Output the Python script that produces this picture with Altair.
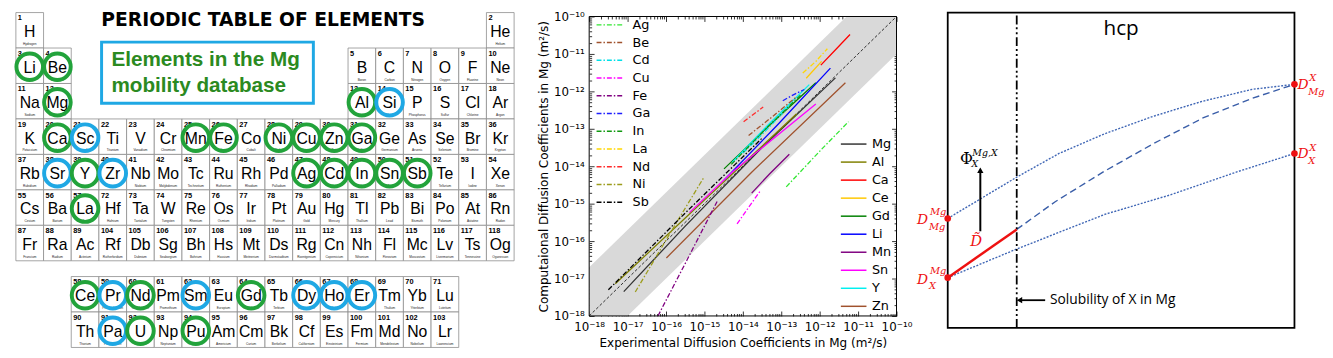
import altair as alt
import pandas as pd

FONT = "DejaVu Sans"
SANS = "Liberation Sans"

# =====================================================================
# Panel 1 : periodic table
# =====================================================================
symbols = ("H He Li Be B C N O F Ne Na Mg Al Si P S Cl Ar K Ca Sc Ti V Cr Mn Fe Co Ni Cu Zn "
           "Ga Ge As Se Br Kr Rb Sr Y Zr Nb Mo Tc Ru Rh Pd Ag Cd In Sn Sb Te I Xe Cs Ba La Ce "
           "Pr Nd Pm Sm Eu Gd Tb Dy Ho Er Tm Yb Lu Hf Ta W Re Os Ir Pt Au Hg Tl Pb Bi Po At Rn "
           "Fr Ra Ac Th Pa U Np Pu Am Cm Bk Cf Es Fm Md No Lr Rf Db Sg Bh Hs Mt Ds Rg Cn Nh Fl "
           "Mc Lv Ts Og").split()
names = ["Hydrogen", "Helium", "Lithium", "Beryllium", "Boron", "Carbon", "Nitrogen", "Oxygen",
         "Fluorine", "Neon", "Sodium", "Magnesium", "Aluminum", "Silicon", "Phosphorus", "Sulfur",
         "Chlorine", "Argon", "Potassium", "Calcium", "Scandium", "Titanium", "Vanadium",
         "Chromium", "Manganese", "Iron", "Cobalt", "Nickel", "Copper", "Zinc", "Gallium",
         "Germanium", "Arsenic", "Selenium", "Bromine", "Krypton", "Rubidium", "Strontium",
         "Yttrium", "Zirconium", "Niobium", "Molybdenum", "Technetium", "Ruthenium", "Rhodium",
         "Palladium", "Silver", "Cadmium", "Indium", "Tin", "Antimony", "Tellurium", "Iodine",
         "Xenon", "Cesium", "Barium", "Lanthanum", "Cerium", "Praseodymium", "Neodymium",
         "Promethium", "Samarium", "Europium", "Gadolinium", "Terbium", "Dysprosium", "Holmium",
         "Erbium", "Thulium", "Ytterbium", "Lutetium", "Hafnium", "Tantalum", "Tungsten",
         "Rhenium", "Osmium", "Iridium", "Platinum", "Gold", "Mercury", "Thallium", "Lead",
         "Bismuth", "Polonium", "Astatine", "Radon", "Francium", "Radium", "Actinium", "Thorium",
         "Protactinium", "Uranium", "Neptunium", "Plutonium", "Americium", "Curium", "Berkelium",
         "Californium", "Einsteinium", "Fermium", "Mendelevium", "Nobelium", "Lawrencium",
         "Rutherfordium", "Dubnium", "Seaborgium", "Bohrium", "Hassium", "Meitnerium",
         "Darmstadtium", "Roentgenium", "Copernicium", "Nihonium", "Flerovium", "Moscovium",
         "Livermorium", "Tennessine", "Oganesson"]
green_elements = ["Li", "Be", "Mg", "Al", "Ca", "Mn", "Fe", "Ni", "Cu", "Zn", "Ga", "Y", "Ag",
                  "Cd", "In", "Sn", "Sb", "La", "Ce", "Nd", "Gd", "U", "Pu"]
blue_elements = ["Si", "Sc", "Sr", "Zr", "Pr", "Sm", "Dy", "Ho", "Er", "Pa"]
title_text = ["PERIODIC TABLE OF ELEMENTS"]
box_lines = ["Elements in the Mg", "mobility database"]


def table_position(z):
    if z == 1: return 1, 1
    if z == 2: return 18, 1
    if z <= 4: return z - 2, 2
    if z <= 10: return z + 8, 2
    if z <= 12: return z - 10, 3
    if z <= 18: return z, 3
    if z <= 36: return z - 18, 4
    if z <= 54: return z - 36, 5
    if z <= 56: return z - 54, 6
    if z == 57: return 3, 6
    if z <= 71: return z - 55, 8
    if z <= 86: return z - 68, 6
    if z <= 88: return z - 86, 7
    if z == 89: return 3, 7
    if z <= 103: return z - 87, 9
    return z - 100, 7


ROW_TOP = {1: 1, 2: 2, 3: 3, 4: 4, 5: 5, 6: 6, 7: 7, 8: 8.444, 9: 9.444}
rows = []
for z, (s, n) in enumerate(zip(symbols, names), start=1):
    c, r = table_position(z)
    v = ROW_TOP[r]
    ring = "green" if s in green_elements else ("blue" if s in blue_elements else "")
    rows.append(dict(num=str(z), sym=s, name=n, c0=c, c1=c + 1, cx=c + 0.5,
                     r0=v, r1=v + 1, cy=v + 0.5, ring=ring))
cells_df = pd.DataFrame(rows)

W1, H1 = 530, 340
Y0 = 14.0          # page y of the panels' origin
CW, CH = 28.1, 36.0
p1x = alt.Scale(domain=[1, 1 + W1 / CW], nice=False, zero=False)
p1y = alt.Scale(domain=[1 + (Y0 - 10) / CH, 1 + (Y0 + H1 - 10) / CH], nice=False, zero=False,
                reverse=True)


def X1(f):
    return alt.X(f, type="quantitative", scale=p1x, axis=None)


def Y1(f):
    return alt.Y(f, type="quantitative", scale=p1y, axis=None)


base1 = alt.Chart(cells_df)
cells = base1.mark_rect(fill="white", stroke="#8c8c8c", strokeWidth=0.8).encode(
    x=X1("c0"), x2="c1", y=Y1("r0"), y2="r1")
nums = base1.mark_text(align="left", baseline="top", dx=2, dy=2, fontSize=7.5,
                       fontWeight="bold", font=SANS, color="black").encode(
    x=X1("c0"), y=Y1("r0"), text="num:N")
syms = base1.mark_text(align="center", baseline="middle", dy=2, fontSize=16, font=SANS,
                       color="black").encode(x=X1("cx"), y=Y1("cy"), text="sym:N")
nms = base1.mark_text(align="center", baseline="bottom", dy=-2, fontSize=3.2, font=SANS,
                      color="#222222").encode(x=X1("cx"), y=Y1("r1"), text="name:N")
rings = base1.transform_filter("datum.ring != ''").mark_point(
    shape="circle", size=729, filled=False, strokeWidth=4, opacity=1, yOffset=1).encode(
    x=X1("cx"), y=Y1("cy"),
    color=alt.Color("ring:N", scale=alt.Scale(domain=["green", "blue"],
                                              range=["#22a33b", "#1fa8e4"]), legend=None))

title_df = pd.DataFrame({"text": title_text, "x": [1 + 251 / CW], "y": [1 + 7.8 / CH]})
title1 = alt.Chart(title_df).mark_text(fontSize=19, fontWeight="bold", font=FONT,
                                       color="black").encode(
    x=X1("x"), y=Y1("y"), text="text:N")

box_df = pd.DataFrame({"x": [1 + 87 / CW], "x2": [1 + 302 / CW],
                       "y": [1 + 30 / CH], "y2": [1 + 92 / CH]})
box = alt.Chart(box_df).mark_rect(fill="white", stroke="#1fa8e4", strokeWidth=3).encode(
    x=X1("x"), x2="x2", y=Y1("y"), y2="y2")
boxtxt_df = pd.DataFrame({"text": box_lines, "x": [1 + 97 / CW] * 2,
                          "y": [1 + 48 / CH, 1 + 75 / CH]})
boxtxt = alt.Chart(boxtxt_df).mark_text(align="left", baseline="middle", fontSize=21,
                                        fontWeight="bold", font=SANS, color="#2b8a21").encode(
    x=X1("x"), y=Y1("y"), text="text:N")

panel1 = alt.layer(cells, nums, syms, nms, rings, title1, box, boxtxt).properties(
    width=W1, height=H1)

# =====================================================================
# Panel 2 : computational vs experimental diffusion coefficients
# =====================================================================
tick_labels = ["10⁻¹⁸", "10⁻¹⁷", "10⁻¹⁶", "10⁻¹⁵", "10⁻¹⁴", "10⁻¹³", "10⁻¹²", "10⁻¹¹", "10⁻¹⁰"]
decades = list(range(-18, -9))
band_offsets = [-1.0, 1.3]     # log10 offsets of the grey band edges from y = x

# impurity (dash-dot) series: log10 experimental, log10 computational
dd_elements = ["Ag", "Be", "Cd", "Cu", "Fe", "Ga", "In", "La", "Nd", "Ni", "Sb"]
dd_colors = ["#33e633", "#a0522d", "#00e0e8", "#ff00ff", "#800080", "#1f1fff", "#119911",
             "#ffd700", "#ff2a2a", "#9c9c1c", "#000000"]
Ag_lx = [-12.87, -12.0, -11.25]; Ag_ly = [-14.55, -13.6, -12.81]
Be_lx = [-13.85, -13.2, -12.62]; Be_ly = [-13.18, -12.65, -12.16]
Cd_lx = [-14.0, -13.4, -12.8];   Cd_ly = [-13.65, -13.05, -12.4]
Cu_lx = [-14.15, -13.85, -13.56]; Cu_ly = [-15.54, -15.1, -14.68]
Fe_lx = [-16.21, -15.45, -14.67]; Fe_ly = [-18.0, -16.5, -14.94]
Ga_lx = [-12.96, -12.7, -12.4];  Ga_ly = [-12.25, -12.1, -11.95]
In_lx = [-14.3, -13.4, -12.5];   In_ly = [-13.95, -13.0, -12.1]
La_lx = [-12.44, -12.1, -11.8];  La_ly = [-11.51, -11.2, -10.86]
Nd_lx = [-13.98, -13.47];        Nd_ly = [-12.81, -12.42]
Ni_lx = [-16.8, -15.9, -15.01];  Ni_ly = [-17.36, -15.8, -14.29]
Sb_lx = [-17.5, -15.5, -13.5];   Sb_ly = [-17.3, -15.25, -13.25]
dd_series = [Ag_lx, Ag_ly, Be_lx, Be_ly, Cd_lx, Cd_ly, Cu_lx, Cu_ly, Fe_lx, Fe_ly, Ga_lx, Ga_ly,
             In_lx, In_ly, La_lx, La_ly, Nd_lx, Nd_ly, Ni_lx, Ni_ly, Sb_lx, Sb_ly]

# solid series
sl_elements = ["Mg", "Al", "Ca", "Ce", "Gd", "Li", "Mn", "Sn", "Y", "Zn"]
sl_colors = ["#333333", "#808000", "#ff0000", "#ffc800", "#008000", "#0000ff", "#800080",
             "#ff00ff", "#00f0f0", "#a0522d"]
Mg_lx = [-17.1, -15.5, -13.5, -11.59]; Mg_ly = [-17.35, -15.6, -13.5, -11.64]
Al_lx = [-17.32, -15.0, -12.6];  Al_ly = [-17.14, -14.9, -12.6]
Ca_lx = [-11.97, -11.6, -11.21]; Ca_ly = [-11.3, -10.9, -10.48]
Ce_lx = [-12.35, -11.95];        Ce_ly = [-11.65, -11.2]
Gd_lx = [-14.49, -13.3, -12.1];  Gd_ly = [-14.07, -12.9, -11.77]
Li_lx = [-14.49, -13.1, -11.72]; Li_ly = [-14.37, -12.9, -11.38]
Mn_lx = [-13.77, -13.3, -12.79]; Mn_ly = [-14.72, -14.2, -13.68]
Sn_lx = [-15.39, -14.28, -12.1]; Sn_ly = [-15.24, -14.16, -12.34]
Y_lx = [-14.28, -13.3, -12.27];  Y_ly = [-13.9, -12.85, -11.82]
Zn_lx = [-15.99, -13.77, -11.33]; Zn_ly = [-16.45, -14.16, -11.77]
sl_series = [Mg_lx, Mg_ly, Al_lx, Al_ly, Ca_lx, Ca_ly, Ce_lx, Ce_ly, Gd_lx, Gd_ly, Li_lx, Li_ly,
             Mn_lx, Mn_ly, Sn_lx, Sn_ly, Y_lx, Y_ly, Zn_lx, Zn_ly]


def series_frame(elements, series):
    out = []
    for i, el in enumerate(elements):
        lx, ly = series[2 * i], series[2 * i + 1]
        for k, (a, b) in enumerate(zip(lx, ly)):
            out.append(dict(element=el, x=10.0 ** a, y=10.0 ** b, order=k))
    return pd.DataFrame(out)


dd_df = series_frame(dd_elements, dd_series)
sl_df = series_frame(sl_elements, sl_series)

W2, H2 = 312, 304
xs2 = alt.Scale(type="log", domain=[1e-18, 1e-10], nice=False)
ys2 = alt.Scale(type="log", domain=[1e-18, 1e-10], nice=False)
major = [10.0 ** d for d in decades]
minor = [m * 10.0 ** d for d in decades[:-1] for m in range(2, 10)]
label_expr = "[" + ",".join("'%s'" % t for t in tick_labels) + "][round(log(datum.value)/LN10)+18]"

band_df = pd.DataFrame({"x": [1e-18, 1e-10]})
band_df["lo"] = band_df["x"] * 10.0 ** band_offsets[0]
band_df["hi"] = band_df["x"] * 10.0 ** band_offsets[1]
band = alt.Chart(band_df).mark_area(color="#d9d9d9", clip=True, opacity=1).encode(
    x=alt.X("x:Q", scale=xs2, axis=None), y=alt.Y("lo:Q", scale=ys2, axis=None), y2="hi:Q")
diag = alt.Chart(band_df).mark_line(color="black", strokeDash=[3, 2], strokeWidth=0.8).encode(
    x=alt.X("x:Q", scale=xs2, axis=None), y=alt.Y("x:Q", scale=ys2, axis=None))

leg_common = dict(title=None, orient="none", symbolType="M-2,0H2", symbolSize=169,
                  symbolStrokeWidth=1.5, labelFont=FONT, labelFontSize=13, labelColor="black",
                  padding=0)
sl_lines = alt.Chart(sl_df).mark_line(strokeWidth=1.3).encode(
    x=alt.X("x:Q", scale=xs2, axis=None), y=alt.Y("y:Q", scale=ys2, axis=None),
    order="order:Q",
    color=alt.Color("element:N", scale=alt.Scale(domain=sl_elements, range=sl_colors),
                    legend=alt.Legend(legendX=261, legendY=122, rowPadding=3.3, labelOffset=11,
                                      **leg_common)))
dd_lines = alt.Chart(dd_df).mark_line(strokeWidth=1.3, strokeDash=[5, 2, 1.5, 2]).encode(
    x=alt.X("x:Q", scale=xs2, axis=None), y=alt.Y("y:Q", scale=ys2, axis=None),
    order="order:Q",
    color=alt.Color("element:N", scale=alt.Scale(domain=dd_elements, range=dd_colors),
                    legend=alt.Legend(legendX=13, legendY=1, symbolDash=[5, 2, 1.5, 2],
                                      rowPadding=3, labelOffset=16, **leg_common)))

frame_df = pd.DataFrame({"x": [1e-18], "x2": [1e-10], "y": [1e-18], "y2": [1e-10]})
frame2 = alt.Chart(frame_df).mark_rect(fill="transparent", stroke="black", strokeWidth=1).encode(
    x=alt.X("x:Q", scale=xs2, axis=None), x2="x2:Q",
    y=alt.Y("y:Q", scale=ys2, axis=None), y2="y2:Q")


def ax(orient, values, size, labels=False, title=None, **kw):
    return alt.Axis(orient=orient, values=values, tickSize=size, offset=-size, domain=False,
                    grid=False, labels=labels, title=title, tickColor="black", tickWidth=0.8,
                    labelFlush=False, labelOverlap=False, **kw)


lab_style = dict(labelExpr=label_expr, labelFont=FONT, labelFontSize=12, labelColor="black",
                 titleFont=FONT, titleFontSize=12.2, titleFontWeight="normal", titleColor="black")


def axis_layer(xaxis, yaxis):
    return alt.Chart(frame_df).mark_point(opacity=0).encode(
        x=alt.X("x:Q", scale=xs2, axis=xaxis), y=alt.Y("y:Q", scale=ys2, axis=yaxis))


axA = axis_layer(
    ax("bottom", major, 5, labels=True, labelPadding=6, titlePadding=4,
       title="Experimental Diffusion Coefficients in Mg (m²/s)", **lab_style),
    ax("left", major, 5, labels=True, labelPadding=5, titlePadding=3,
       title="Computaional Diffusion Coefficients in Mg (m²/s)", **lab_style))
axB = axis_layer(ax("top", major, 5), ax("right", major, 5))
axC = axis_layer(ax("bottom", minor, 2.5), ax("left", minor, 2.5))
axD = axis_layer(ax("top", minor, 2.5), ax("right", minor, 2.5))

panel2 = alt.layer(band, diag, sl_lines, dd_lines, frame2, axA, axB, axC, axD).resolve_scale(
    color="independent").resolve_axis(x="independent", y="independent").properties(
    width=W2, height=H2)

# =====================================================================
# Panel 3 : schematic of diffusion coefficient vs composition
# =====================================================================
x_labels = ["Mg", "at.% X", "X"]
upper_x = [0, 0.199, 0.321, 0.452, 0.594, 0.736, 0.878, 1.0]
upper_D = [0.351, 0.484, 0.560, 0.623, 0.680, 0.728, 0.766, 0.782]
lower_x = [0, 0.199, 0.452, 0.642, 0.832, 1.0]
lower_D = [0.161, 0.253, 0.364, 0.427, 0.500, 0.560]
dashed_x = [0.199, 0.310, 0.452, 0.594, 0.736, 0.878, 1.0]
dashed_D = [0.316, 0.405, 0.503, 0.592, 0.674, 0.737, 0.782]
red_x = [0, 0.199]
red_D = [0.161, 0.316]
solubility = 0.199
D_top = 1.0127
arrow_x = 0.094
arrow_D = [0.310, 0.506]
sol_arrow_x = [0.281, 0.207]
sol_arrow_D = 0.0886

W3, H3 = 352, 316
xs3 = alt.Scale(domain=[0, 1], nice=False, zero=False)
ys3 = alt.Scale(domain=[0, 1], nice=False, zero=False)


def X3(f):
    return alt.X(f, type="quantitative", scale=xs3, axis=None)


def Y3(f):
    return alt.Y(f, type="quantitative", scale=ys3, axis=None)


frame3_df = pd.DataFrame({"x": [0.0], "x2": [1.0], "y": [0.0], "y2": [D_top]})
frame3 = alt.Chart(frame3_df).mark_rect(fill="transparent", stroke="black",
                                        strokeWidth=1.8).encode(
    x=alt.X("x:Q", scale=xs3, axis=alt.Axis(
        values=[0, 0.5, 1], labelExpr="[" + ",".join("'%s'" % t for t in x_labels) +
        "][round(datum.value*2)]", ticks=False, domain=False, grid=False, labelFlush=False,
        labelOverlap=False, labelPadding=7, labelFont="Open Sans", labelFontSize=15,
        labelColor="black", title=None)),
    x2="x2:Q",
    y=alt.Y("y:Q", scale=ys3, axis=alt.Axis(
        title="D", labels=False, ticks=False, domain=False, grid=False, titleX=-15,
        titleY=146, titleAngle=270, titleBaseline="middle", titleFont="Open Sans",
        titleFontSize=15, titleFontWeight="normal", titleColor="black")),
    y2="y2:Q")

curves_df = pd.concat([
    pd.DataFrame({"curve": "upper", "x": upper_x, "D": upper_D}),
    pd.DataFrame({"curve": "lower", "x": lower_x, "D": lower_D})])
dotted = alt.Chart(curves_df).mark_line(color="#3f66b5", strokeWidth=1.4,
                                        strokeDash=[2, 1.5]).encode(
    x=X3("x"), y=Y3("D"), detail="curve:N")
dashed = alt.Chart(pd.DataFrame({"x": dashed_x, "D": dashed_D})).mark_line(
    color="#3a5ea8", strokeWidth=1.4, strokeDash=[7, 4]).encode(x=X3("x"), y=Y3("D"))
sol_df = pd.DataFrame({"x": [solubility], "y": [0.0], "y2": [D_top]})
sol_line = alt.Chart(sol_df).mark_rule(color="black", strokeWidth=1.8,
                                       strokeDash=[9, 3, 2, 3, 2, 3]).encode(
    x=X3("x"), y=Y3("y"), y2="y2")
red_line = alt.Chart(pd.DataFrame({"x": red_x, "D": red_D})).mark_line(
    color="#ee1111", strokeWidth=2.5).encode(x=X3("x"), y=Y3("D"))
dots_df = pd.DataFrame({"x": [0, 0, 1, 1], "D": [upper_D[0], lower_D[0], upper_D[-1], lower_D[-1]]})
dots = alt.Chart(dots_df).mark_point(filled=True, size=45, color="#ee1111", opacity=1).encode(
    x=X3("x"), y=Y3("D"))

arr_df = pd.DataFrame({"x": [arrow_x], "y": [arrow_D[0]], "y2": [arrow_D[1]]})
arr = alt.Chart(arr_df).mark_rule(color="black", strokeWidth=2).encode(
    x=X3("x"), y=Y3("y"), y2="y2")
arr_head = alt.Chart(arr_df).mark_point(shape="triangle-up", filled=True, size=40,
                                        color="black", opacity=1).encode(x=X3("x"), y=Y3("y2"))
sarr_df = pd.DataFrame({"x": [sol_arrow_x[0]], "x2": [sol_arrow_x[1]], "y": [sol_arrow_D]})
sarr = alt.Chart(sarr_df).mark_rule(color="black", strokeWidth=1.8).encode(
    x=X3("x"), x2="x2", y=Y3("y"))
sarr_head = alt.Chart(sarr_df).mark_point(shape="triangle-left", filled=True, size=40,
                                          color="black", opacity=1).encode(x=X3("x2"), y=Y3("y"))

text_df = pd.DataFrame({"text": ["hcp", "Solubility of X in Mg"], "x": [0.5, 0.295],
                        "D": [0.959, sol_arrow_D]})
hcp = alt.Chart(text_df.iloc[[0]]).mark_text(font="Open Sans", fontSize=21, color="black").encode(
    x=X3("x"), y=Y3("D"), text="text:N")
soltxt = alt.Chart(text_df.iloc[[1]]).mark_text(font="Open Sans", fontSize=14, color="black",
                                                align="left").encode(
    x=X3("x"), y=Y3("D"), text="text:N")

# annotation labels with super/subscripts
ann_df = pd.DataFrame({
    "x": [0, 0, 1, 1],
    "D": [upper_D[0], lower_D[0], upper_D[-1], lower_D[-1]],
    "side": ["L", "L", "R", "R"],
    "main": ["D", "D", "D", "D"],
    "sup": ["Mg", "Mg", "X", "X"],
    "sub": ["Mg", "X", "Mg", "X"]})
ital = dict(font="DejaVu Serif", fontStyle="italic", color="#ee1111")
L = alt.Chart(ann_df).transform_filter("datum.side == 'L'")
R = alt.Chart(ann_df).transform_filter("datum.side == 'R'")
lD = L.mark_text(align="right", dx=-20, dy=2, fontSize=14, **ital).encode(
    x=X3("x"), y=Y3("D"), text="main:N")
lsup = L.mark_text(align="left", dx=-18, dy=-7, fontSize=10, **ital).encode(
    x=X3("x"), y=Y3("D"), text="sup:N")
lsub = L.mark_text(align="left", dx=-19, dy=9, fontSize=10, **ital).encode(
    x=X3("x"), y=Y3("D"), text="sub:N")
rD = R.mark_text(align="left", dx=3, dy=1, fontSize=14, **ital).encode(
    x=X3("x"), y=Y3("D"), text="main:N")
rsup = R.mark_text(align="left", dx=15, dy=-6, fontSize=10, **ital).encode(
    x=X3("x"), y=Y3("D"), text="sup:N")
rsub = R.mark_text(align="left", dx=14, dy=8, fontSize=10, **ital).encode(
    x=X3("x"), y=Y3("D"), text="sub:N")

phi_df = pd.DataFrame({"x": [0.054], "D": [0.541], "main": ["Φ"], "sup": ["Mg,X"], "sub": ["X"]})
phi = alt.Chart(phi_df)
phi_main = phi.mark_text(fontSize=16, font="DejaVu Serif", color="black").encode(
    x=X3("x"), y=Y3("D"), text="main:N")
phi_sup = phi.mark_text(align="left", dx=6, dy=-6, fontSize=9.5, font="DejaVu Serif",
                        fontStyle="italic", color="black").encode(
    x=X3("x"), y=Y3("D"), text="sup:N")
phi_sub = phi.mark_text(align="left", dx=5, dy=5, fontSize=9.5, font="DejaVu Serif",
                        fontStyle="italic", color="black").encode(
    x=X3("x"), y=Y3("D"), text="sub:N")
dt_df = pd.DataFrame({"x": [0.082], "D": [0.278], "text": ["D\u0303"]})
dtilde = alt.Chart(dt_df).mark_text(fontSize=15, **ital).encode(
    x=X3("x"), y=Y3("D"), text="text:N")

panel3 = alt.layer(frame3, dotted, dashed, sol_line, red_line, dots, arr, arr_head, sarr,
                   sarr_head, hcp, soltxt, lD, lsup, lsub, rD, rsup, rsub, phi_main, phi_sup,
                   phi_sub, dtilde).properties(width=W3, height=H3)

chart = alt.hconcat(panel1, panel2, panel3, spacing=52, bounds="flush").properties(
    padding=0, background="white").configure_view(strokeWidth=0)

chart.save("out.html", embed_options={"renderer": "svg", "actions": False})
